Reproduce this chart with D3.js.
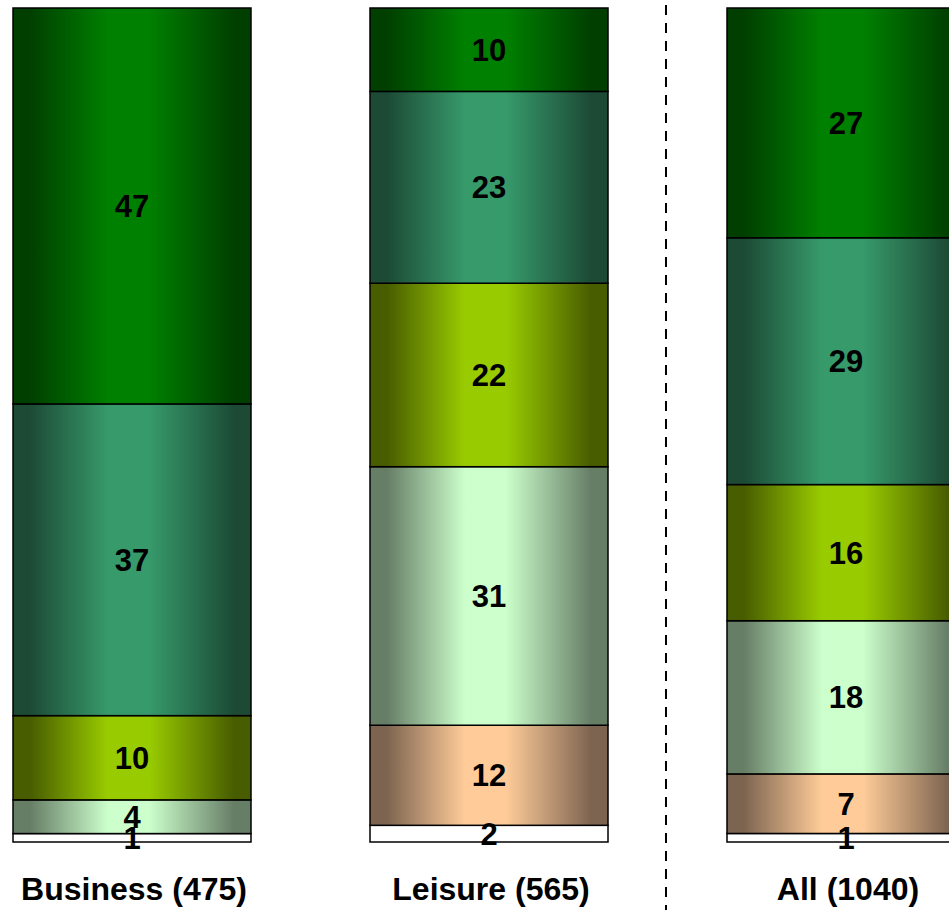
<!DOCTYPE html>
<html>
<head>
<meta charset="utf-8">
<script src="https://cdn.jsdelivr.net/npm/d3@7"></script>
<style>
  html, body { margin: 0; padding: 0; background: #fff; }
  svg { display: block; }
  text { font-family: Arial, "Liberation Sans", sans-serif; font-weight: bold; fill: #000; }
</style>
</head>
<body>
<svg id="chart" width="949" height="910"></svg>
<script>
// ---- data ----
const categories = ["Business (475)", "Leisure (565)", "All (1040)"];
const seriesNames = ["s1", "s2", "s3", "s4", "s5", "s6"]; // bottom to top
const s1 = [1, 2, 1];     // white
const s2 = [0, 12, 7];    // peach
const s3 = [4, 31, 18];   // light green
const s4 = [10, 22, 16];  // yellow green
const s5 = [37, 23, 29];  // teal green
const s6 = [47, 10, 27];  // green
const seriesValues = [s1, s2, s3, s4, s5, s6];

// colours: [edge, centre]
const seriesColors = [
  ["#ffffff", "#ffffff"],
  ["#7d6450", "#ffcc99"],
  ["#667d66", "#ccffcc"],
  ["#485c00", "#99cc00"],
  ["#1c4a35", "#379a6b"],
  ["#003f00", "#008000"]
];

const table = categories.map((c, i) => {
  const row = { cat: c };
  seriesNames.forEach((s, j) => row[s] = seriesValues[j][i]);
  return row;
});

const svg = d3.select("#chart");
const W = 949, H = 910;

const x = d3.scaleBand().domain(categories).range([13, 965]).paddingInner(1/3).paddingOuter(0);
const y = d3.scaleLinear().domain([0, 1]).range([842, 8]);

const stack = d3.stack().keys(seriesNames).offset(d3.stackOffsetExpand);
const stacked = stack(table);

// gradients (cylinder-like shading)
const defs = svg.append("defs");
const stopDefs = [[0, 0], [0.07, 0], [0.40, 1], [0.57, 1], [0.93, 0], [1, 0]];
seriesNames.forEach((s, j) => {
  const g = defs.append("linearGradient").attr("id", "grad-" + s)
    .attr("x1", "0%").attr("x2", "100%").attr("y1", "0%").attr("y2", "0%");
  stopDefs.forEach(([o, k]) => {
    g.append("stop").attr("offset", o).attr("stop-color", seriesColors[j][k]);
  });
});

// separator dashed line between Leisure and All
const sepX = Math.round(x(categories[1]) + x.bandwidth() + (x.step() - x.bandwidth()) / 2) - 2;
svg.append("line")
  .attr("x1", sepX).attr("x2", sepX)
  .attr("y1", 5).attr("y2", H)
  .attr("stroke", "#000").attr("stroke-width", 2)
  .attr("stroke-dasharray", "10,8");

// bars
const layers = svg.append("g").selectAll("g").data(stacked).join("g")
  .attr("fill", d => "url(#grad-" + d.key + ")");

layers.selectAll("rect").data(d => d.map(v => ({ v, key: d.key })))
  .join("rect")
  .filter(d => d.v[1] - d.v[0] > 0)
  .attr("x", d => x(d.v.data.cat))
  .attr("y", d => y(d.v[1]))
  .attr("width", x.bandwidth())
  .attr("height", d => y(d.v[0]) - y(d.v[1]))
  .attr("stroke", "#000")
  .attr("stroke-width", 1.5);

// value labels
const labels = svg.append("g");
stacked.forEach(layer => {
  layer.forEach(v => {
    const val = v.data[layer.key];
    if (val <= 0) return;
    labels.append("text")
      .attr("x", x(v.data.cat) + x.bandwidth() / 2)
      .attr("y", (y(v[0]) + y(v[1])) / 2)
      .attr("dy", "0.36em")
      .attr("text-anchor", "middle")
      .attr("font-size", 31)
      .text(val);
  });
});

// category labels
svg.append("g").selectAll("text").data(categories).join("text")
  .attr("x", d => x(d) + x.bandwidth() / 2 + 2)
  .attr("y", 900)
  .attr("text-anchor", "middle")
  .attr("font-size", 32)
  .text(d => d);
</script>
</body>
</html>
